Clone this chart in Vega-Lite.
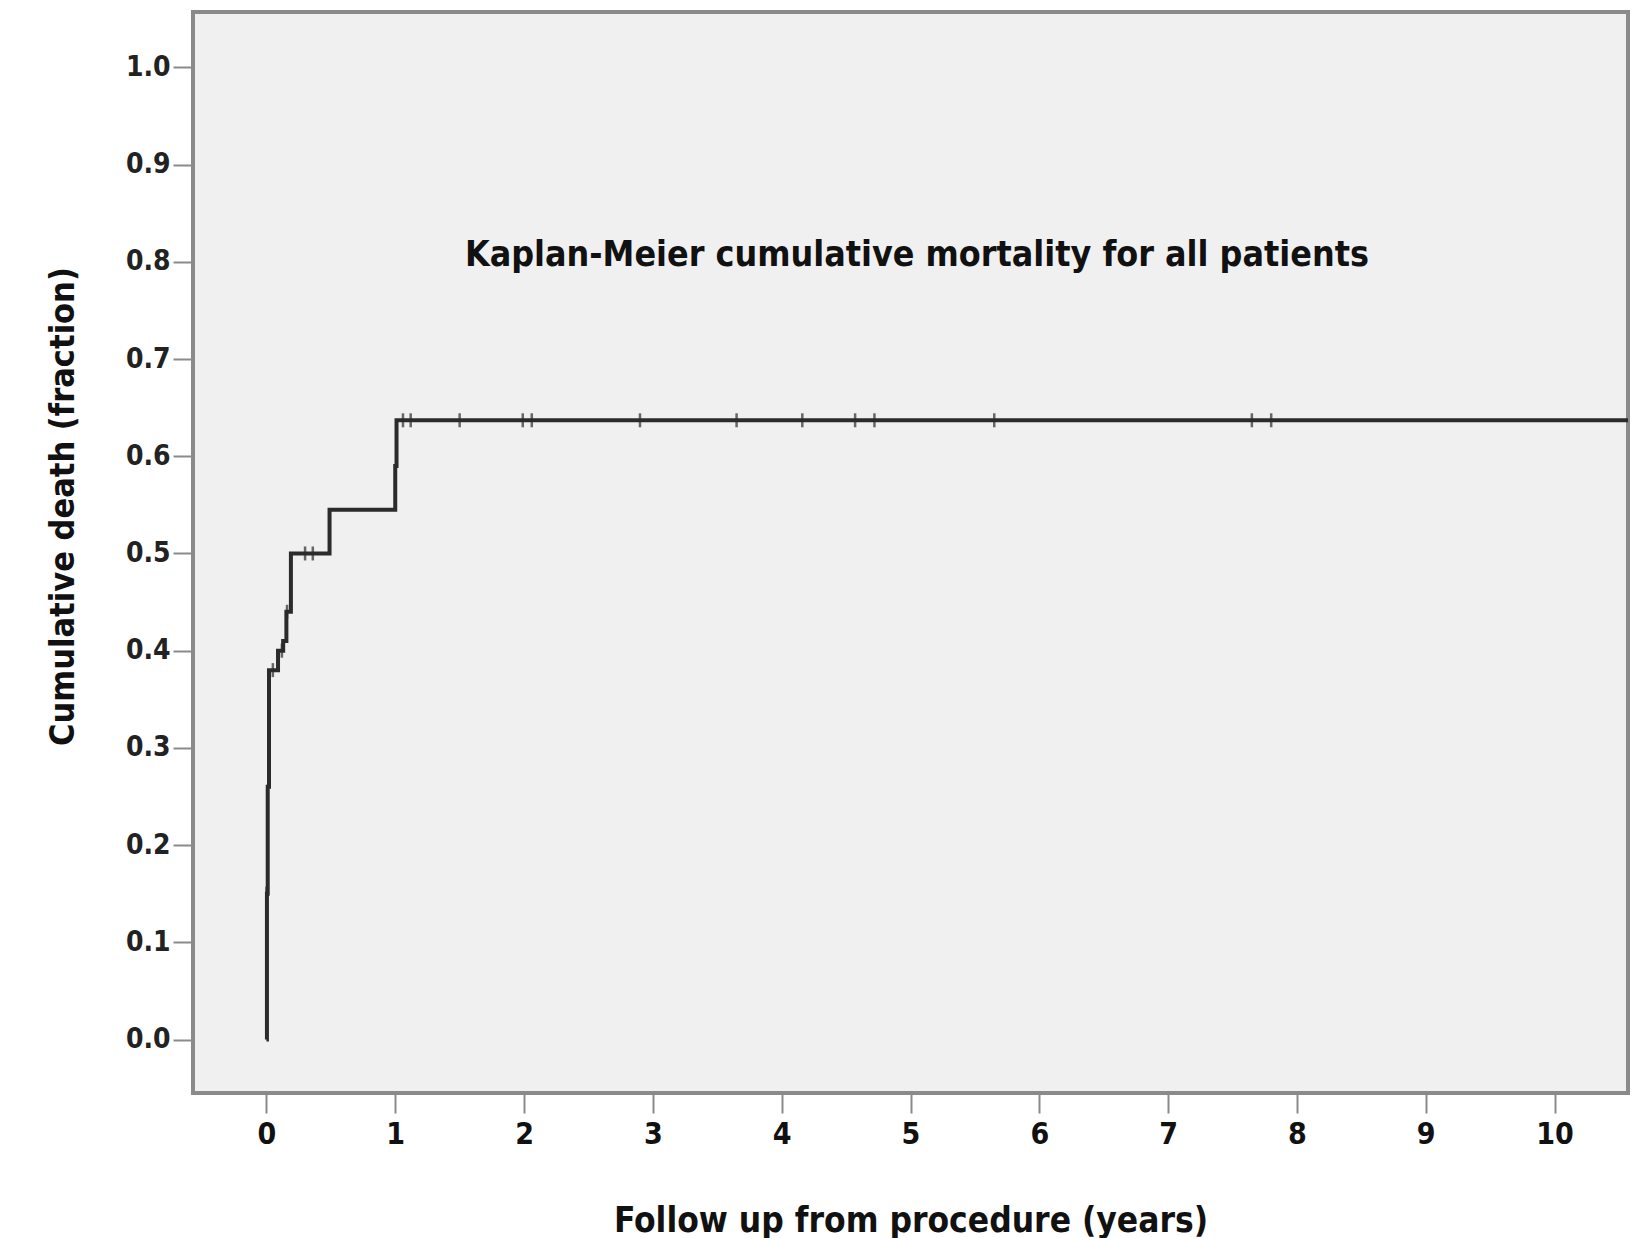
{
  "$schema": "https://vega.github.io/schema/vega-lite/v6.json",
  "width": 1435,
  "height": 1081,
  "autosize": {"type": "none"},
  "padding": {"left": 193, "top": 12, "right": 24, "bottom": 145},
  "background": "white",
  "config": {
    "view": {"fill": "#f0f0f0", "stroke": "#8a8a8a", "strokeWidth": 4},
    "font": "DejaVu Sans Condensed, Liberation Sans, sans-serif"
  },
  "datasets": {
    "curve": [
      {"time": 0, "death": 0},
      {"time": 0.004, "death": 0.15},
      {"time": 0.01, "death": 0.26},
      {"time": 0.02, "death": 0.38},
      {"time": 0.09, "death": 0.40},
      {"time": 0.13, "death": 0.41},
      {"time": 0.155, "death": 0.44},
      {"time": 0.19, "death": 0.50},
      {"time": 0.49, "death": 0.545},
      {"time": 1.0, "death": 0.59},
      {"time": 1.01, "death": 0.637},
      {"time": 10.6, "death": 0.637}
    ],
    "censored": [
      {"time": 0.0, "death": 0.15},
      {"time": 0.05, "death": 0.38},
      {"time": 0.12, "death": 0.40},
      {"time": 0.16, "death": 0.44},
      {"time": 0.3, "death": 0.50},
      {"time": 0.36, "death": 0.50},
      {"time": 1.06, "death": 0.637},
      {"time": 1.12, "death": 0.637},
      {"time": 1.5, "death": 0.637},
      {"time": 1.99, "death": 0.637},
      {"time": 2.06, "death": 0.637},
      {"time": 2.9, "death": 0.637},
      {"time": 3.65, "death": 0.637},
      {"time": 4.16, "death": 0.637},
      {"time": 4.57, "death": 0.637},
      {"time": 4.72, "death": 0.637},
      {"time": 5.65, "death": 0.637},
      {"time": 7.65, "death": 0.637},
      {"time": 7.8, "death": 0.637}
    ],
    "notes": [
      {"note": "Kaplan-Meier cumulative mortality for all patients"}
    ]
  },
  "layer": [
    {
      "data": {"name": "curve"},
      "mark": {"type": "line", "interpolate": "step-after", "color": "#2b2b2b", "strokeWidth": 4, "clip": true},
      "encoding": {
        "x": {
          "field": "time",
          "type": "quantitative",
          "scale": {"domain": [-0.57, 10.57], "nice": false, "zero": false},
          "axis": {
            "title": "Follow up from procedure (years)",
            "values": [0, 1, 2, 3, 4, 5, 6, 7, 8, 9, 10],
            "format": "d",
            "grid": false,
            "domain": false,
            "tickColor": "#8a8a8a",
            "tickWidth": 2,
            "tickSize": 20,
            "labelPadding": 6,
            "labelFontSize": 30,
            "labelFontWeight": "bold",
            "labelColor": "#111",
            "titleFontSize": 35,
            "titleFontWeight": "bold",
            "titleColor": "#111",
            "titleBaseline": "middle",
            "titleY": 127
          }
        },
        "y": {
          "field": "death",
          "type": "quantitative",
          "scale": {"domain": [-0.055, 1.057], "nice": false, "zero": false},
          "axis": {
            "title": "Cumulative death (fraction)",
            "values": [0, 0.1, 0.2, 0.3, 0.4, 0.5, 0.6, 0.7, 0.8, 0.9, 1.0],
            "format": ".1f",
            "grid": false,
            "domain": false,
            "tickColor": "#8a8a8a",
            "tickWidth": 2,
            "tickSize": 20,
            "labelPadding": 3,
            "labelFontSize": 28,
            "labelFontWeight": "bold",
            "labelColor": "#222",
            "titleFontSize": 34,
            "titleFontWeight": "bold",
            "titleColor": "#111",
            "titleBaseline": "middle",
            "titleAlign": "center",
            "titleX": -130,
            "titleY": 494
          }
        }
      }
    },
    {
      "data": {"name": "censored"},
      "mark": {"type": "tick", "orient": "vertical", "color": "#2b2b2b", "size": 14, "thickness": 2.5},
      "encoding": {
        "x": {"field": "time", "type": "quantitative"},
        "y": {"field": "death", "type": "quantitative"}
      }
    },
    {
      "data": {"name": "notes"},
      "mark": {"type": "text", "fontSize": 35.5, "fontWeight": "bold", "color": "#111", "align": "center", "baseline": "middle"},
      "encoding": {
        "text": {"field": "note", "type": "nominal"},
        "x": {"datum": 5.05, "type": "quantitative"},
        "y": {"datum": 0.807, "type": "quantitative"}
      }
    }
  ]
}
